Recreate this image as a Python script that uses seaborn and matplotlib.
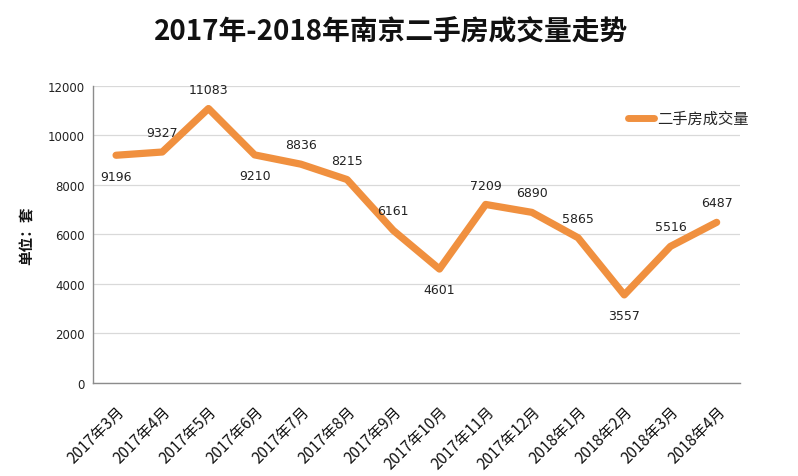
import matplotlib
matplotlib.use("Agg")
import matplotlib.pyplot as plt
import seaborn as sns
import pandas as pd

months = ["2017年3月", "2017年4月", "2017年5月", "2017年6月", "2017年7月", "2017年8月",
          "2017年9月", "2017年10月", "2017年11月", "2017年12月", "2018年1月", "2018年2月",
          "2018年3月", "2018年4月"]
volume = [9196, 9327, 11083, 9210, 8836, 8215, 6161, 4601, 7209, 6890, 5865, 3557, 5516, 6487]
label_pos = ["below", "above", "above", "below", "above", "above", "above", "below",
             "above", "above", "above", "below", "above", "above"]
series_name = "二手房成交量"
y_ticks = [0, 2000, 4000, 6000, 8000, 10000, 12000]

sns.set_theme(style="white")
plt.rcParams["font.family"] = ["Noto Sans CJK SC", "DejaVu Sans"]

df = pd.DataFrame({"month": months, "volume": volume, "idx": range(len(months))})

fig = plt.figure(figsize=(7.98, 4.77), dpi=100)
ax = fig.add_axes([0.1165, 0.195, 0.8105, 0.623])

sns.lineplot(data=df, x="idx", y="volume", ax=ax, color="#F0903F", linewidth=5.2,
             label=series_name, solid_capstyle="round", solid_joinstyle="round")

for i, (v, p) in enumerate(zip(volume, label_pos)):
    off = 14 if p == "above" else -15
    ax.annotate(str(v), (i, v), xytext=(0, off), textcoords="offset points",
                ha="center", va="center", fontsize=9, color="#222222",
                family=["DejaVu Sans"])

ax.set_xlim(-0.5, len(months) - 0.5)
ax.set_ylim(0, 12000)
ax.set_yticks(y_ticks)
ax.set_yticklabels([str(t) for t in y_ticks], fontsize=8.5, color="#222222",
                   family=["DejaVu Sans"])
ax.set_xticks(range(len(months)))
ax.set_xticklabels(months, rotation=45, ha="right", rotation_mode="anchor",
                   fontsize=11, color="#111111")
ax.tick_params(axis="y", length=0, pad=6)
ax.tick_params(axis="x", length=0, pad=14)

ax.grid(axis="y", color="#d9d9d9", linewidth=0.9)
ax.set_axisbelow(True)
for s in ["top", "right"]:
    ax.spines[s].set_visible(False)
for s in ["left", "bottom"]:
    ax.spines[s].set_color("#8c8c8c")
    ax.spines[s].set_linewidth(1.0)

ax.set_xlabel("")
ax.set_ylabel("单位：套", fontsize=10.5, fontweight="bold", labelpad=9, color="#111111")

leg = ax.legend(loc="upper right", bbox_to_anchor=(1.035, 0.965), frameon=False,
                fontsize=11, handlelength=1.7, handletextpad=0.2)
for line in leg.get_lines():
    line.set_linewidth(5)
    line.set_solid_capstyle("round")

fig.text(0.49, 0.935, "2017年-2018年南京二手房成交量走势", ha="center", va="center",
         fontsize=20, fontweight="bold", color="#111111")

fig.savefig("out.png", dpi=100, facecolor="white")
